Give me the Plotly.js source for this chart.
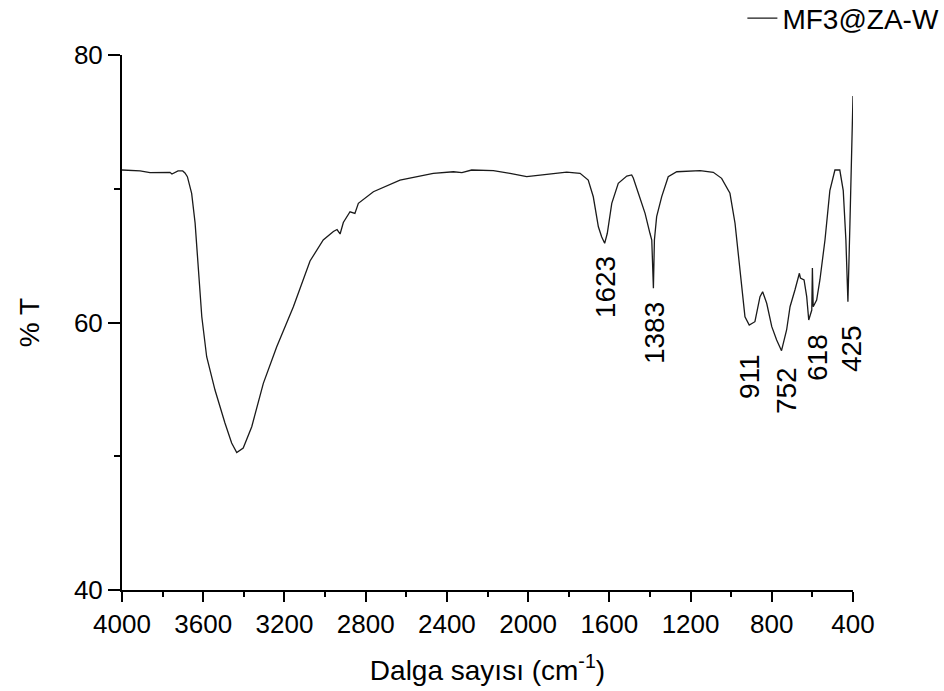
<!DOCTYPE html>
<html>
<head>
<meta charset="utf-8">
<script src="https://cdn.plot.ly/plotly-3.0.1.min.js"></script>
<style>html,body{margin:0;padding:0;background:#fff;}#chart{width:944px;height:691px;}</style>
</head>
<body>
<div id="chart"></div>
<script>
// FTIR spectrum values
const wavenumber = [4000,3911,3862,3813,3764,3754,3724,3701,3690,3678,3657,3640,3624,3607,3583,3542,3493,3460,3435,3403,3361,3304,3238,3156,3074,3009,2959,2941,2926,2910,2877,2853,2836,2762,2631,2467,2368,2326,2278,2171,2089,2007,1908,1810,1744,1704,1679,1654,1638,1623,1610,1588,1556,1514,1490,1482,1457,1424,1400,1391,1383,1378,1367,1342,1310,1268,1153,1088,1047,1006,981,956,932,911,883,858,845,825,800,776,752,727,710,686,664,659,641,628,618,603,600,596,579,563,538,514,489,465,448,435,425,415,400];
const transmittance = [71.40,71.33,71.21,71.21,71.23,71.10,71.33,71.33,71.18,70.90,69.66,67.44,64.17,60.43,57.44,54.95,52.49,50.99,50.27,50.62,52.21,55.45,58.19,61.18,64.60,66.17,66.80,66.95,66.62,67.48,68.28,68.16,68.91,69.78,70.65,71.15,71.27,71.21,71.40,71.35,71.15,70.90,71.08,71.25,71.15,70.65,69.40,67.16,66.41,65.92,66.67,68.91,70.41,70.95,71.03,70.80,69.66,68.16,66.67,66.17,62.56,66.17,67.91,69.41,70.90,71.27,71.35,71.23,70.78,69.66,67.42,63.68,60.43,59.81,60.06,61.93,62.30,61.44,59.69,58.69,57.89,59.44,61.18,62.43,63.68,63.33,63.18,61.93,60.19,60.93,64.07,61.18,61.68,63.18,66.17,69.86,71.40,71.40,69.86,66.17,61.55,67.44,76.93];
const seriesName = 'MF3@ZA-W';
const peakLabels = ['1623','1383','911','752','618','425'];
const xTickVals = [4000,3600,3200,2800,2400,2000,1600,1200,800,400];
const yTickVals = [40,60,80];

// label placement (text centres, data units)
const labelX = [1621,1380,907,730,572,410];
const labelY = [62.65,59.21,55.93,54.95,57.35,58.09];

const font = 'Arial, "Liberation Sans", sans-serif';
const narrow = '"Liberation Sans Narrow", "Arial Narrow", Arial, "Liberation Sans", sans-serif';

const trace = {
  x: wavenumber, y: transmittance, type: 'scatter', mode: 'lines',
  name: seriesName, line: {color: '#1a1a1a', width: 1.3}
};

const annotations = peakLabels.map((t, i) => ({
  x: labelX[i], y: labelY[i], xref: 'x', yref: 'y', text: t,
  showarrow: false, textangle: -90, xanchor: 'center', yanchor: 'middle',
  font: {family: font, size: 28, color: '#000'}
}));

const layout = {
  width: 944, height: 691,
  margin: {l: 122, r: 91, t: 55, b: 101, pad: 0, autoexpand: false},
  paper_bgcolor: '#fff', plot_bgcolor: '#fff',
  showlegend: true,
  legend: {x: 1.125, xanchor: 'right', y: 1.115, yanchor: 'top', bgcolor: 'rgba(0,0,0,0)',
           font: {family: font, size: 28, color: '#000'}},
  xaxis: {
    range: [4000, 400], tickvals: xTickVals, ticktext: xTickVals.map(String),
    showgrid: false, zeroline: false, showline: true, linecolor: '#000', linewidth: 2,
    ticks: 'outside', ticklen: 10, tickwidth: 2, tickcolor: '#000',
    tickfont: {family: narrow, size: 26, color: '#000'},
    minor: {dtick: 200, tick0: 400, ticks: 'outside', ticklen: 5, tickwidth: 2, tickcolor: '#000', showgrid: false},
    title: {text: 'Dalga sayısı (cm<sup>-1</sup>)', font: {family: font, size: 28, color: '#000'}, standoff: 22}
  },
  yaxis: {
    range: [40, 80], tickvals: yTickVals, ticktext: yTickVals.map(String),
    showgrid: false, zeroline: false, showline: true, linecolor: '#000', linewidth: 2,
    ticks: 'outside', ticklen: 12, tickwidth: 2, tickcolor: '#000',
    tickfont: {family: narrow, size: 26, color: '#000'},
    minor: {dtick: 10, tick0: 40, ticks: 'outside', ticklen: 6, tickwidth: 2, tickcolor: '#000', showgrid: false},
    title: {text: '% T', font: {family: font, size: 28, color: '#000'}, standoff: 26}
  },
  annotations: annotations
};

Plotly.newPlot('chart', [trace], layout, {displayModeBar: false, staticPlot: true});
</script>
</body>
</html>
